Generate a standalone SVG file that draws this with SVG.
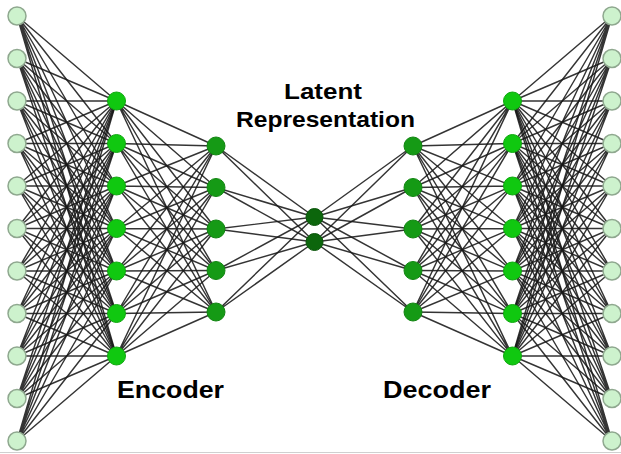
<svg xmlns="http://www.w3.org/2000/svg" xmlns:xlink="http://www.w3.org/1999/xlink" width="621" height="454" viewBox="0 0 621 454">
<style>
.e{fill:none;stroke:#181818;stroke-width:1.45;stroke-opacity:0.88;stroke-linejoin:round;stroke-linecap:round}
.io{fill:#cdf2cd;stroke:#8fa88f;stroke-width:1.5}
.h1{fill:#10c810;stroke:#0fa80f;stroke-width:1}
.h2{fill:#159a15;stroke:#118511;stroke-width:1}
.z{fill:#0c660c;stroke:#0a550a;stroke-width:1}
.t{font-family:"Liberation Sans",Arial,sans-serif;font-weight:bold;font-size:22.5px;fill:#000;text-anchor:middle}
</style>
<rect width="621" height="454" fill="#fff"/>
<g id="connectors">
<g id="enc">
<path class="e" d="M17 16L116.5 101 17 16 116.5 143.5 17 16 116.5 186 17 16 116.5 228.5 17 16 116.5 271 17 16 116.5 313.5 17 16 116.5 356"/>
<path class="e" d="M17 58.5L116.5 101 17 58.5 116.5 143.5 17 58.5 116.5 186 17 58.5 116.5 228.5 17 58.5 116.5 271 17 58.5 116.5 313.5 17 58.5 116.5 356"/>
<path class="e" d="M17 101L116.5 101 17 101 116.5 143.5 17 101 116.5 186 17 101 116.5 228.5 17 101 116.5 271 17 101 116.5 313.5 17 101 116.5 356"/>
<path class="e" d="M17 143.5L116.5 101 17 143.5 116.5 143.5 17 143.5 116.5 186 17 143.5 116.5 228.5 17 143.5 116.5 271 17 143.5 116.5 313.5 17 143.5 116.5 356"/>
<path class="e" d="M17 186L116.5 101 17 186 116.5 143.5 17 186 116.5 186 17 186 116.5 228.5 17 186 116.5 271 17 186 116.5 313.5 17 186 116.5 356"/>
<path class="e" d="M17 228.5L116.5 101 17 228.5 116.5 143.5 17 228.5 116.5 186 17 228.5 116.5 228.5 17 228.5 116.5 271 17 228.5 116.5 313.5 17 228.5 116.5 356"/>
<path class="e" d="M17 271L116.5 101 17 271 116.5 143.5 17 271 116.5 186 17 271 116.5 228.5 17 271 116.5 271 17 271 116.5 313.5 17 271 116.5 356"/>
<path class="e" d="M17 313.5L116.5 101 17 313.5 116.5 143.5 17 313.5 116.5 186 17 313.5 116.5 228.5 17 313.5 116.5 271 17 313.5 116.5 313.5 17 313.5 116.5 356"/>
<path class="e" d="M17 356L116.5 101 17 356 116.5 143.5 17 356 116.5 186 17 356 116.5 228.5 17 356 116.5 271 17 356 116.5 313.5 17 356 116.5 356"/>
<path class="e" d="M17 398.5L116.5 101 17 398.5 116.5 143.5 17 398.5 116.5 186 17 398.5 116.5 228.5 17 398.5 116.5 271 17 398.5 116.5 313.5 17 398.5 116.5 356"/>
<path class="e" d="M17 441L116.5 101 17 441 116.5 143.5 17 441 116.5 186 17 441 116.5 228.5 17 441 116.5 271 17 441 116.5 313.5 17 441 116.5 356"/>
<path class="e" d="M116.5 101L216 146 116.5 101 216 187.5 116.5 101 216 229 116.5 101 216 270.5 116.5 101 216 312"/>
<path class="e" d="M116.5 143.5L216 146 116.5 143.5 216 187.5 116.5 143.5 216 229 116.5 143.5 216 270.5 116.5 143.5 216 312"/>
<path class="e" d="M116.5 186L216 146 116.5 186 216 187.5 116.5 186 216 229 116.5 186 216 270.5 116.5 186 216 312"/>
<path class="e" d="M116.5 228.5L216 146 116.5 228.5 216 187.5 116.5 228.5 216 229 116.5 228.5 216 270.5 116.5 228.5 216 312"/>
<path class="e" d="M116.5 271L216 146 116.5 271 216 187.5 116.5 271 216 229 116.5 271 216 270.5 116.5 271 216 312"/>
<path class="e" d="M116.5 313.5L216 146 116.5 313.5 216 187.5 116.5 313.5 216 229 116.5 313.5 216 270.5 116.5 313.5 216 312"/>
<path class="e" d="M116.5 356L216 146 116.5 356 216 187.5 116.5 356 216 229 116.5 356 216 270.5 116.5 356 216 312"/>
<path class="e" d="M216 146L314.5 217 216 146 314.5 242"/>
<path class="e" d="M216 187.5L314.5 217 216 187.5 314.5 242"/>
<path class="e" d="M216 229L314.5 217 216 229 314.5 242"/>
<path class="e" d="M216 270.5L314.5 217 216 270.5 314.5 242"/>
<path class="e" d="M216 312L314.5 217 216 312 314.5 242"/>
</g>
<use id="dec" xlink:href="#enc" href="#enc" transform="matrix(-1 0 0 1 629 0)"/>
</g>
<g id="input-layer">
<g id="in1"><circle class="io" cx="17" cy="16" r="9"/></g>
<g id="in2"><circle class="io" cx="17" cy="58.5" r="9"/></g>
<g id="in3"><circle class="io" cx="17" cy="101" r="9"/></g>
<g id="in4"><circle class="io" cx="17" cy="143.5" r="9"/></g>
<g id="in5"><circle class="io" cx="17" cy="186" r="9"/></g>
<g id="in6"><circle class="io" cx="17" cy="228.5" r="9"/></g>
<g id="in7"><circle class="io" cx="17" cy="271" r="9"/></g>
<g id="in8"><circle class="io" cx="17" cy="313.5" r="9"/></g>
<g id="in9"><circle class="io" cx="17" cy="356" r="9"/></g>
<g id="in10"><circle class="io" cx="17" cy="398.5" r="9"/></g>
<g id="in11"><circle class="io" cx="17" cy="441" r="9"/></g>
</g>
<g id="encoder-1">
<g id="e1n1"><circle class="h1" cx="116.5" cy="101" r="9"/></g>
<g id="e1n2"><circle class="h1" cx="116.5" cy="143.5" r="9"/></g>
<g id="e1n3"><circle class="h1" cx="116.5" cy="186" r="9"/></g>
<g id="e1n4"><circle class="h1" cx="116.5" cy="228.5" r="9"/></g>
<g id="e1n5"><circle class="h1" cx="116.5" cy="271" r="9"/></g>
<g id="e1n6"><circle class="h1" cx="116.5" cy="313.5" r="9"/></g>
<g id="e1n7"><circle class="h1" cx="116.5" cy="356" r="9"/></g>
</g>
<g id="encoder-2">
<g id="e2n1"><circle class="h2" cx="216" cy="146" r="9"/></g>
<g id="e2n2"><circle class="h2" cx="216" cy="187.5" r="9"/></g>
<g id="e2n3"><circle class="h2" cx="216" cy="229" r="9"/></g>
<g id="e2n4"><circle class="h2" cx="216" cy="270.5" r="9"/></g>
<g id="e2n5"><circle class="h2" cx="216" cy="312" r="9"/></g>
</g>
<g id="latent">
<g id="z1"><circle class="z" cx="314.5" cy="217" r="8.5"/></g>
<g id="z2"><circle class="z" cx="314.5" cy="242" r="8.5"/></g>
</g>
<g id="decoder-1">
<g id="d1n1"><circle class="h2" cx="413" cy="146" r="9"/></g>
<g id="d1n2"><circle class="h2" cx="413" cy="187.5" r="9"/></g>
<g id="d1n3"><circle class="h2" cx="413" cy="229" r="9"/></g>
<g id="d1n4"><circle class="h2" cx="413" cy="270.5" r="9"/></g>
<g id="d1n5"><circle class="h2" cx="413" cy="312" r="9"/></g>
</g>
<g id="decoder-2">
<g id="d2n1"><circle class="h1" cx="512.5" cy="101" r="9"/></g>
<g id="d2n2"><circle class="h1" cx="512.5" cy="143.5" r="9"/></g>
<g id="d2n3"><circle class="h1" cx="512.5" cy="186" r="9"/></g>
<g id="d2n4"><circle class="h1" cx="512.5" cy="228.5" r="9"/></g>
<g id="d2n5"><circle class="h1" cx="512.5" cy="271" r="9"/></g>
<g id="d2n6"><circle class="h1" cx="512.5" cy="313.5" r="9"/></g>
<g id="d2n7"><circle class="h1" cx="512.5" cy="356" r="9"/></g>
</g>
<g id="output-layer">
<g id="out1"><circle class="io" cx="612" cy="16" r="9"/></g>
<g id="out2"><circle class="io" cx="612" cy="58.5" r="9"/></g>
<g id="out3"><circle class="io" cx="612" cy="101" r="9"/></g>
<g id="out4"><circle class="io" cx="612" cy="143.5" r="9"/></g>
<g id="out5"><circle class="io" cx="612" cy="186" r="9"/></g>
<g id="out6"><circle class="io" cx="612" cy="228.5" r="9"/></g>
<g id="out7"><circle class="io" cx="612" cy="271" r="9"/></g>
<g id="out8"><circle class="io" cx="612" cy="313.5" r="9"/></g>
<g id="out9"><circle class="io" cx="612" cy="356" r="9"/></g>
<g id="out10"><circle class="io" cx="612" cy="398.5" r="9"/></g>
<g id="out11"><circle class="io" cx="612" cy="441" r="9"/></g>
</g>
<g id="labels">
<text class="t" x="323" y="99" textLength="78" lengthAdjust="spacingAndGlyphs">Latent</text>
<text class="t" x="325.5" y="127" textLength="179" lengthAdjust="spacingAndGlyphs">Representation</text>
<text class="t" x="170.5" y="398" style="font-size:23px" textLength="107" lengthAdjust="spacingAndGlyphs">Encoder</text>
<text class="t" x="437" y="398" style="font-size:23px" textLength="108" lengthAdjust="spacingAndGlyphs">Decoder</text>
</g>
<line x1="0" y1="452.5" x2="621" y2="452.5" stroke="#d0d0d0" stroke-width="1"/>
</svg>
